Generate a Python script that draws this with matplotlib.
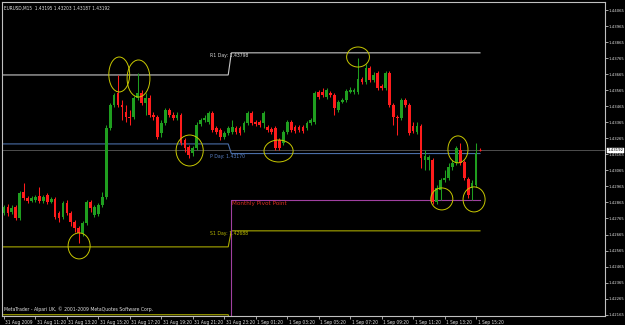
import matplotlib
matplotlib.use("Agg")
import matplotlib.pyplot as plt
import matplotlib.transforms as mtransforms
from matplotlib.patches import Ellipse

# ---------------- data (EURUSD M15) ----------------
opens = [1.42800, 1.42837, 1.42806, 1.42837, 1.42769, 1.42931, 1.42893, 1.42875, 1.42881, 1.42906,
         1.42875, 1.42912, 1.42869, 1.42887, 1.42800, 1.42775, 1.42862, 1.42800, 1.42744, 1.42707,
         1.42676, 1.42738, 1.42869, 1.42787, 1.42794, 1.42850, 1.42900, 1.43330, 1.43473, 1.43548,
         1.43473, 1.43429, 1.43398, 1.43398, 1.43516, 1.43548, 1.43485, 1.43516, 1.43410, 1.43398,
         1.43298, 1.43361, 1.43441, 1.43410, 1.43392, 1.43410, 1.43255, 1.43211, 1.43174, 1.43205,
         1.43354, 1.43379, 1.43367, 1.43423, 1.43330, 1.43317, 1.43274, 1.43298, 1.43305, 1.43330,
         1.43330, 1.43317, 1.43361, 1.43423, 1.43367, 1.43367, 1.43361, 1.43336, 1.43323, 1.43330,
         1.43255, 1.43236, 1.43305, 1.43367, 1.43336, 1.43336, 1.43336, 1.43330, 1.43361, 1.43367,
         1.43554, 1.43554, 1.43523, 1.43548, 1.43535, 1.43441, 1.43491, 1.43504, 1.43554, 1.43554,
         1.43554, 1.43635, 1.43616, 1.43703, 1.43629, 1.43672, 1.43591, 1.43579, 1.43672, 1.43473,
         1.43398, 1.43392, 1.43504, 1.43473, 1.43342, 1.43305, 1.43342, 1.43130, 1.43130, 1.43130,
         1.42869, 1.42943, 1.43005, 1.43018, 1.43087, 1.43112, 1.43192, 1.43118, 1.43012, 1.42956,
         1.42974, 1.43195]
highs = [1.42850, 1.42856, 1.42850, 1.42850, 1.42937, 1.42987, 1.42906, 1.42906, 1.42912, 1.42962,
         1.42912, 1.42925, 1.42900, 1.42900, 1.42812, 1.42875, 1.42881, 1.42812, 1.42756, 1.42719,
         1.42750, 1.42881, 1.42881, 1.42850, 1.42862, 1.42931, 1.43348, 1.43485, 1.43548, 1.43660,
         1.43504, 1.43473, 1.43441, 1.43529, 1.43672, 1.43566, 1.43548, 1.43535, 1.43429, 1.43410,
         1.43379, 1.43454, 1.43454, 1.43429, 1.43429, 1.43423, 1.43267, 1.43224, 1.43217, 1.43367,
         1.43392, 1.43410, 1.43435, 1.43435, 1.43342, 1.43330, 1.43311, 1.43342, 1.43379, 1.43342,
         1.43342, 1.43373, 1.43435, 1.43435, 1.43379, 1.43379, 1.43435, 1.43348, 1.43336, 1.43342,
         1.43267, 1.43317, 1.43379, 1.43379, 1.43348, 1.43348, 1.43348, 1.43373, 1.43392, 1.43560,
         1.43566, 1.43579, 1.43579, 1.43560, 1.43548, 1.43504, 1.43516, 1.43573, 1.43585, 1.43579,
         1.43766, 1.43647, 1.43728, 1.43716, 1.43678, 1.43685, 1.43604, 1.43685, 1.43685, 1.43485,
         1.43410, 1.43516, 1.43516, 1.43485, 1.43367, 1.43367, 1.43354, 1.43192, 1.43161, 1.43143,
         1.42974, 1.43018, 1.43068, 1.43112, 1.43130, 1.43217, 1.43236, 1.43130, 1.43024, 1.43005,
         1.43236, 1.43203]
lows = [1.42787, 1.42781, 1.42794, 1.42756, 1.42756, 1.42881, 1.42862, 1.42869, 1.42869, 1.42862,
        1.42862, 1.42856, 1.42862, 1.42763, 1.42744, 1.42763, 1.42787, 1.42719, 1.42682, 1.42613,
        1.42657, 1.42725, 1.42806, 1.42775, 1.42781, 1.42837, 1.42887, 1.43317, 1.43460, 1.43460,
        1.43379, 1.43367, 1.43348, 1.43386, 1.43504, 1.43473, 1.43410, 1.43398, 1.43379, 1.43261,
        1.43274, 1.43348, 1.43398, 1.43379, 1.43379, 1.43224, 1.43180, 1.43143, 1.43155, 1.43192,
        1.43342, 1.43367, 1.43354, 1.43305, 1.43292, 1.43255, 1.43261, 1.43286, 1.43292, 1.43292,
        1.43286, 1.43305, 1.43348, 1.43348, 1.43342, 1.43336, 1.43330, 1.43305, 1.43292, 1.43192,
        1.43192, 1.43224, 1.43292, 1.43305, 1.43298, 1.43305, 1.43298, 1.43317, 1.43348, 1.43354,
        1.43510, 1.43523, 1.43510, 1.43523, 1.43410, 1.43429, 1.43485, 1.43491, 1.43548, 1.43541,
        1.43541, 1.43604, 1.43604, 1.43616, 1.43616, 1.43566, 1.43566, 1.43566, 1.43460, 1.43348,
        1.43286, 1.43379, 1.43460, 1.43286, 1.43298, 1.43292, 1.43080, 1.43068, 1.43068, 1.42856,
        1.42856, 1.42881, 1.42993, 1.43005, 1.43068, 1.43099, 1.43099, 1.43005, 1.42893, 1.42881,
        1.42962, 1.43187]
closes = [1.42837, 1.42800, 1.42831, 1.42769, 1.42925, 1.42893, 1.42875, 1.42893, 1.42900, 1.42875,
          1.42900, 1.42869, 1.42887, 1.42775, 1.42769, 1.42862, 1.42800, 1.42744, 1.42707, 1.42676,
          1.42738, 1.42869, 1.42831, 1.42837, 1.42850, 1.42900, 1.43330, 1.43473, 1.43535, 1.43473,
          1.43460, 1.43398, 1.43392, 1.43516, 1.43548, 1.43485, 1.43516, 1.43410, 1.43398, 1.43274,
          1.43361, 1.43441, 1.43410, 1.43392, 1.43410, 1.43236, 1.43205, 1.43161, 1.43205, 1.43348,
          1.43379, 1.43392, 1.43423, 1.43317, 1.43305, 1.43274, 1.43298, 1.43330, 1.43336, 1.43305,
          1.43298, 1.43361, 1.43423, 1.43361, 1.43354, 1.43348, 1.43423, 1.43317, 1.43305, 1.43205,
          1.43205, 1.43305, 1.43367, 1.43317, 1.43311, 1.43317, 1.43311, 1.43361, 1.43379, 1.43548,
          1.43523, 1.43535, 1.43566, 1.43535, 1.43454, 1.43491, 1.43504, 1.43560, 1.43566, 1.43566,
          1.43635, 1.43616, 1.43703, 1.43629, 1.43660, 1.43579, 1.43579, 1.43672, 1.43473, 1.43398,
          1.43392, 1.43504, 1.43473, 1.43298, 1.43311, 1.43342, 1.43143, 1.43155, 1.43149, 1.42869,
          1.42956, 1.43005, 1.43018, 1.43087, 1.43112, 1.43205, 1.43112, 1.43018, 1.42912, 1.42987,
          1.43174, 1.43192]

x_labels = ["31 Aug 2009", "31 Aug 11:20", "31 Aug 13:20", "31 Aug 15:20", "31 Aug 17:20",
            "31 Aug 19:20", "31 Aug 21:20", "31 Aug 23:20", "1 Sep 01:20", "1 Sep 03:20",
            "1 Sep 05:20", "1 Sep 07:20", "1 Sep 09:20", "1 Sep 11:20", "1 Sep 13:20",
            "1 Sep 15:20"]
bars_per_label = 8

price_ticks = [1.44065, 1.43965, 1.43865, 1.43765, 1.43665, 1.43565, 1.43465, 1.43365, 1.43265,
               1.43165, 1.43065, 1.42965, 1.42865, 1.42765, 1.42665, 1.42565, 1.42465, 1.42365,
               1.42265, 1.42165]
current_price = 1.43192

# pivot levels: [31 Aug, 1 Sep]
r1_day = [1.43660, 1.43798]
p_day = [1.43230, 1.43170]
s1_day = [1.42588, 1.42688]
s2_day = [1.42165, 1.42060]
monthly_pivot = [1.41800, 1.42881]
day_break = 57.0

# hand-drawn annotation loops: centre bar, centre price, width (bars), height (price)
loop_x = [29.3, 34.2, 47.2, 69.8, 19.1, 90.0, 115.4, 111.3, 119.5]
loop_y = [1.43663, 1.43638, 1.43189, 1.43186, 1.42594, 1.43772, 1.43196, 1.42887, 1.42884]
loop_w = [5.3, 5.8, 6.9, 7.4, 5.6, 5.8, 5.1, 5.6, 5.6]
loop_h = [0.00218, 0.00231, 0.00193, 0.00137, 0.00162, 0.00125, 0.00168, 0.00137, 0.00156]

title = "EURUSD,M15  1.43195 1.43203 1.43187 1.43192"
copyright_text = "MetaTrader - Alpari UK, \u00a9 2001-2009 MetaQuotes Software Corp."

# ---------------- figure ----------------
W, H = 625, 325
fig = plt.figure(figsize=(W / 100, H / 100), dpi=100, facecolor="black")
ax = fig.add_axes([2 / W, (H - 316) / H, 603 / W, 314 / H], facecolor="black")

FONT = "DejaVu Sans"
STRETCH = "condensed"
FS = 3.4
FS_Y = 3.1
UP, DOWN = "#1f9e1f", "#ff1c1c"

n = len(opens)
last = n - 1

# current price line
ax.axhline(current_price, color="#5a5a5a", lw=0.6, zorder=1)

# pivot levels
def level(vals, color, lw=0.8):
    xs = [-0.5, day_break, day_break + 0.8, last]
    ys = [vals[0], vals[0], vals[1], vals[1]]
    ax.plot(xs, ys, color=color, lw=lw, zorder=2, solid_joinstyle="miter")

level(r1_day, "#c8c8c8")
level(p_day, "#4a6ea8")
level(s1_day, "#a8a800")
level(s2_day, "#a8a800")
ax.plot([day_break + 0.6, day_break + 0.6, last], [monthly_pivot[0], monthly_pivot[1], monthly_pivot[1]],
        color="#a040a0", lw=0.8, zorder=2)

# candles
for i in range(n):
    o, h, l, c = opens[i], highs[i], lows[i], closes[i]
    col = UP if c >= o else DOWN
    ax.vlines(i, l, h, color=col, lw=0.75, zorder=3)
    body = abs(c - o)
    if body < 0.00004:
        ax.hlines((o + c) / 2, i - 0.35, i + 0.35, color=col, lw=0.8, zorder=3)
    else:
        ax.bar(i, body, bottom=min(o, c), width=0.7, color=col, lw=0, zorder=3)

txt = dict(family=FONT, fontstretch=STRETCH)

# labels for pivots
lab_x = day_break - 4.6
ax.text(lab_x, r1_day[1], "R1 Day: %.5f" % r1_day[1], color="#d8d8d8", fontsize=FS + 0.3,
        va="top", ha="left", zorder=4, **txt)
ax.text(lab_x, p_day[1], "P Day: %.5f" % p_day[1], color="#5a82c8", fontsize=FS + 0.3,
        va="top", ha="left", zorder=4, **txt)
ax.text(lab_x, s1_day[1], "S1 Day: %.5f" % s1_day[1], color="#b8b800", fontsize=FS + 0.3,
        va="top", ha="left", zorder=4, **txt)
ax.text(day_break + 1.0, monthly_pivot[1] - 0.00005, "Monthly Pivot Point", color="#d83020",
        fontsize=FS + 1.2, va="top", ha="left", zorder=4, **txt)

# annotation loops
for cx, cy, w, h in zip(loop_x, loop_y, loop_w, loop_h):
    ax.add_patch(Ellipse((cx, cy), w, h, fill=False, edgecolor="#c8c800", lw=0.7, zorder=5))

# axes limits / spines
ax.set_xlim(-0.5, -0.5 + 603 / 3.934)
ax.set_ylim(1.42157, 1.44115)
for s in ax.spines.values():
    s.set_color("#c0c0c0")
    s.set_linewidth(0.8)

ax.yaxis.tick_right()
ax.set_yticks(price_ticks)
ax.set_yticklabels(["%.5f" % v for v in price_ticks])
ax.tick_params(axis="y", colors="#c0c0c0", labelcolor="#e0e0e0", length=2, width=0.6, pad=0.8,
               labelsize=FS_Y)
for t in ax.get_yticklabels():
    t.set_family(FONT)
    t.set_fontstretch(STRETCH)

xt = [k * bars_per_label for k in range(len(x_labels))]
ax.set_xticks(xt)
ax.set_xticklabels(x_labels, ha="left")
ax.tick_params(axis="x", colors="#c0c0c0", labelcolor="#e0e0e0", length=2, width=0.6, pad=1.0,
               labelsize=FS)
offset = mtransforms.ScaledTranslation(1.5 / 100, 0, fig.dpi_scale_trans)
for t in ax.get_xticklabels():
    t.set_family(FONT)
    t.set_fontstretch(STRETCH)
    t.set_transform(t.get_transform() + offset)

# current price tag on the axis
tr = mtransforms.blended_transform_factory(ax.transAxes, ax.transData)
ax.text(1.004, current_price, "%.5f" % current_price, transform=tr, fontsize=FS_Y,
        color="black", va="center", ha="left", zorder=6, clip_on=False,
        bbox=dict(boxstyle="square,pad=0.12", fc="white", ec="white", lw=0.3), **txt)

# title and copyright
ax.text(0.004, 0.988, title, transform=ax.transAxes, color="#e0e0e0", fontsize=FS,
        va="top", ha="left", **txt)
ax.text(0.003, 0.012, copyright_text, transform=ax.transAxes, color="#e0e0e0", fontsize=FS + 0.3,
        va="bottom", ha="left", **txt)

fig.savefig("out.png", dpi=100, facecolor="black")
